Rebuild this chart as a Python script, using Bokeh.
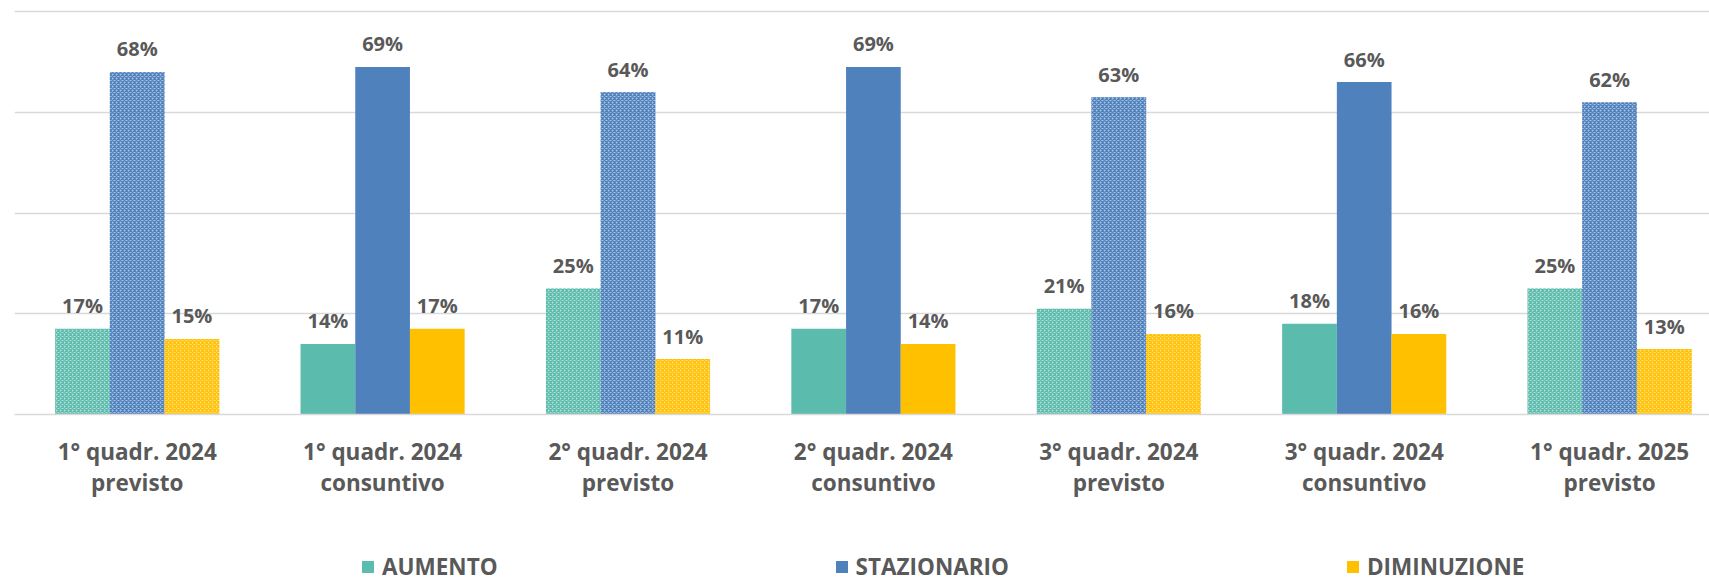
from bokeh.plotting import figure
from bokeh.models import ColumnDataSource, Range1d, FixedTicker, Legend, LegendItem
from bokeh.layouts import column
from bokeh.transform import dodge
from bokeh.core.properties import value
from bokeh.embed import file_html
from bokeh.resources import INLINE

# ---- data ----
categories = [
    "1° quadr. 2024\nprevisto",
    "1° quadr. 2024\nconsuntivo",
    "2° quadr. 2024\nprevisto",
    "2° quadr. 2024\nconsuntivo",
    "3° quadr. 2024\nprevisto",
    "3° quadr. 2024\nconsuntivo",
    "1° quadr. 2025\nprevisto",
]
aumento = [17, 14, 25, 17, 21, 18, 25]
stazionario = [68, 69, 64, 69, 63, 66, 62]
diminuzione = [15, 17, 11, 14, 16, 16, 13]
series_names = ["AUMENTO", "STAZIONARIO", "DIMINUZIONE"]
series_values = [aumento, stazionario, diminuzione]
colors = ["#5BBBAC", "#4F81BD", "#FFC000"]
grid_ticks = [0.2, 0.4, 0.6, 0.8]

TEXT_COLOR = "#595959"
FONT = "Open Sans"
BAR_W = 0.2229
GROUP_PX = 245.4
PX_PER_UNIT = 503.75
FRAME_W = 1695
FRAME_H = 405
TOTAL_W = 1709
MAIN_H = 545
LEG_H = 37

p = figure(
    output_backend="svg", toolbar_location=None,
    frame_width=FRAME_W, frame_height=FRAME_H,
    min_border_left=14, min_border_right=0, min_border_top=9,
    min_border_bottom=MAIN_H - 9 - FRAME_H,
    x_range=Range1d(0, FRAME_W / GROUP_PX), y_range=Range1d(0, FRAME_H / PX_PER_UNIT),
    background_fill_color="white", border_fill_color="white",
)
p.outline_line_color = None

xpos = [i + 0.5 for i in range(len(categories))]
offsets = [-BAR_W, 0.0, BAR_W]
for name, vals, col, off in zip(series_names, series_values, colors, offsets):
    prev_idx = [i for i, c in enumerate(categories) if "previsto" in c]
    cons_idx = [i for i, c in enumerate(categories) if "previsto" not in c]
    src_prev = ColumnDataSource(dict(
        x=[xpos[i] for i in prev_idx],
        top=[vals[i] / 100 for i in prev_idx],
    ))
    src_cons = ColumnDataSource(dict(
        x=[xpos[i] for i in cons_idx],
        top=[vals[i] / 100 for i in cons_idx],
    ))
    src_lab = ColumnDataSource(dict(
        x=xpos, top=[v / 100 for v in vals], label=[f"{v}%" for v in vals],
    ))
    p.vbar(x=dodge("x", off, range=p.x_range), top="top", width=BAR_W, source=src_prev,
           fill_color=col, fill_alpha=0.5, line_color=None,
           hatch_pattern="diagonal_cross", hatch_color=col, hatch_scale=4, hatch_weight=1.3)
    p.vbar(x=dodge("x", off, range=p.x_range), top="top", width=BAR_W, source=src_cons,
           fill_color=col, line_color=None)
    p.text(x=dodge("x", off, range=p.x_range), y="top", text="label", source=src_lab,
           text_align="center", text_baseline="alphabetic", y_offset=-23,
           text_font=value(FONT), text_font_style="bold", text_font_size="20px",
           text_color=TEXT_COLOR)

# grid
p.xgrid.visible = False
p.ygrid.ticker = FixedTicker(ticks=grid_ticks)
p.ygrid.grid_line_color = "#D9D9D9"
p.ygrid.grid_line_width = 1.5
p.yaxis.visible = False

# x axis
xa = p.xaxis[0]
xa.ticker = FixedTicker(ticks=xpos)
xa.major_label_overrides = {x: c for x, c in zip(xpos, categories)}
xa.major_label_text_font = FONT
xa.major_label_text_font_size = "22.5px"
xa.major_label_text_font_style = "bold"
xa.major_label_text_color = TEXT_COLOR
xa.major_label_text_line_height = 1.03
xa.major_label_standoff = 15
xa.major_tick_line_color = None
xa.minor_tick_line_color = None
xa.axis_line_color = "#D9D9D9"
xa.axis_line_width = 1.5

# legend strip (separate figure so that the legend is not clipped)
pl = figure(
    output_backend="svg", toolbar_location=None,
    width=TOTAL_W, height=LEG_H,
    min_border_left=0, min_border_right=0, min_border_top=0, min_border_bottom=0,
    x_range=Range1d(0, TOTAL_W), y_range=Range1d(0, LEG_H),
    x_axis_location=None, y_axis_location=None,
    background_fill_color="white", border_fill_color="white",
)
pl.outline_line_color = None
pl.grid.visible = False
items = []
for name, col in zip(series_names, colors):
    # zero-size proxy glyph: only its legend swatch is shown
    rr = pl.vbar(x=[0], top=[0], width=0, fill_color=col, line_color=None)
    items.append(LegendItem(label=name, renderers=[rr]))

legend = Legend(
    items=items, location=(346, 0), orientation="horizontal",
    glyph_width=15, glyph_height=15, label_standoff=7, spacing=336,
    padding=0, margin=0, border_line_color=None, background_fill_alpha=0,
    label_text_font=FONT, label_text_font_size="22.5px", label_text_font_style="bold",
    label_text_color=TEXT_COLOR, label_text_line_height=0.8,
)
pl.add_layout(legend, "center")

layout = column(p, pl, spacing=0)
open("out.html", "w").write(file_html(layout, INLINE))
